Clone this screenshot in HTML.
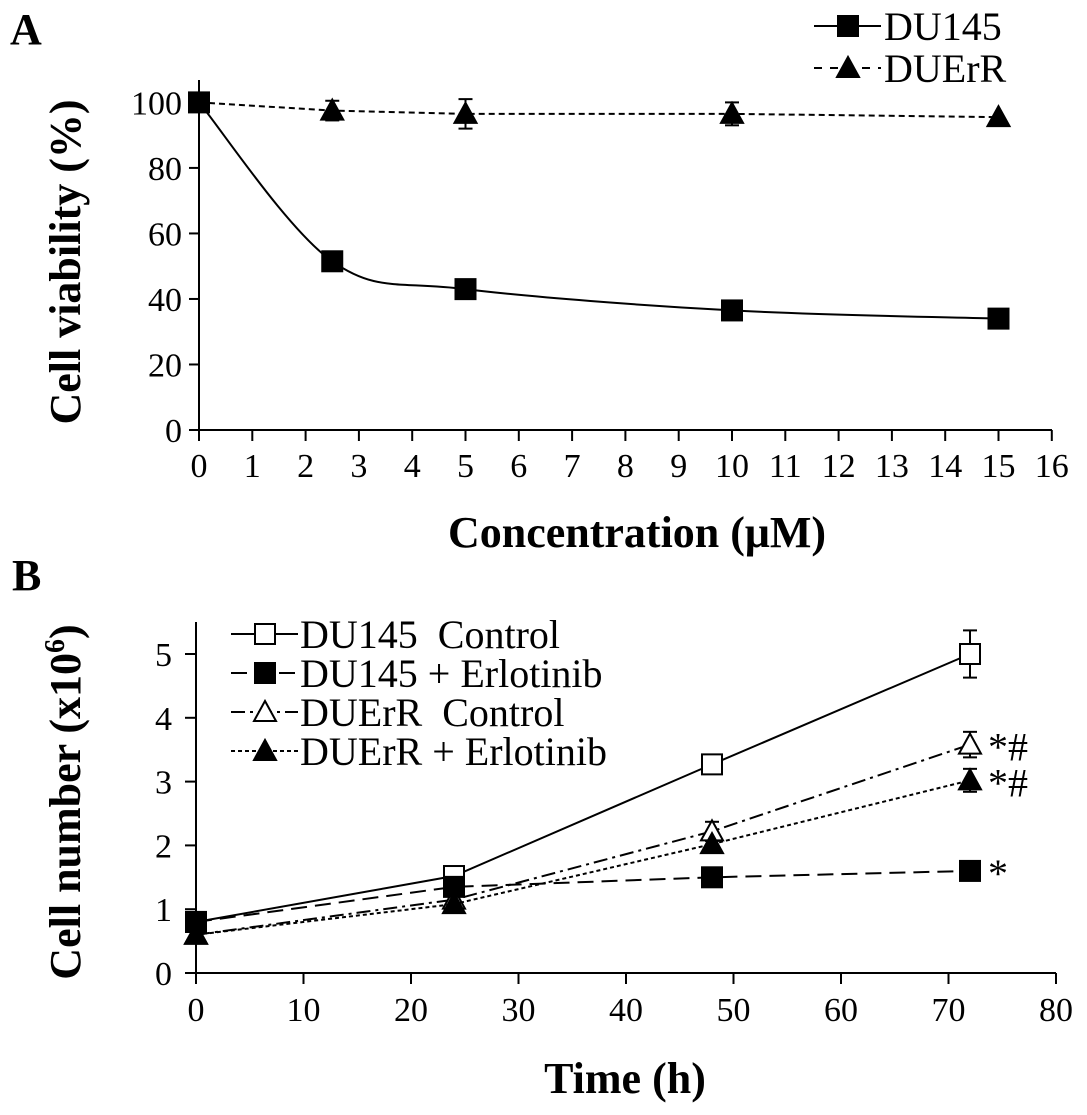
<!DOCTYPE html>
<html><head><meta charset="utf-8">
<style>
html,body{margin:0;padding:0;background:#fff;}
svg{display:block;font-family:"Liberation Serif",serif;}
.tk{font-size:34px;}
.tt{font-size:44px;font-weight:bold;}
.lg{font-size:40px;}
</style></head>
<body>
<svg id="chart" width="1087" height="1115" viewBox="0 0 1087 1115" xmlns="http://www.w3.org/2000/svg"></svg>
<script>
// Panel A data
const concA = [0, 2.5, 5, 10, 15];
const du145A = [100, 51.5, 43, 36.5, 34];
const duerrA = [100, 97.5, 96.5, 96.5, 95.5];
const duerrAErr = [0, 3, 4.5, 3.5, 0];
const xTicksA = [0,1,2,3,4,5,6,7,8,9,10,11,12,13,14,15,16];
const yTicksA = [0,20,40,60,80,100];
// Panel B data
const timeB = [0, 24, 48, 72];
const duCtrl = [0.8, 1.52, 3.27, 5.0];
const duCtrlErr = [0, 0, 0, 0.37];
const duErl = [0.8, 1.35, 1.5, 1.6];
const rCtrl = [0.6, 1.15, 2.22, 3.58];
const rCtrlErr = [0, 0, 0.15, 0.2];
const rErl = [0.6, 1.08, 2.02, 3.02];
const rErlErr = [0, 0, 0, 0.18];
const xTicksB = [0,10,20,30,40,50,60,70,80];
const yTicksB = [0,1,2,3,4,5];

const svg = document.getElementById('chart');
const NS = 'http://www.w3.org/2000/svg';
function mk(tag, attrs, parent, text){
  const e = document.createElementNS(NS, tag);
  for (const k in attrs) e.setAttribute(k, attrs[k]);
  if (text !== undefined) e.textContent = text;
  (parent||svg).appendChild(e);
  return e;
}
const xA = v => 199 + v*53.3;
const yA = v => 430 - v*3.276;
const xB = v => 196 + v*10.75;
const yB = v => 973 - v*63.8;

function square(g, x, y, fill){ return mk('rect',{x:x-10,y:y-10,width:20,height:20,fill:fill,stroke:'#000','stroke-width':2},g); }
function tri(g, x, y, fill){ return mk('polygon',{points:`${x},${y-11} ${x-11},${y+9} ${x+11},${y+9}`,fill:fill,stroke:'#000','stroke-width':2},g); }
function errbar(g, x, y1, y2){
  mk('line',{x1:x,y1:y1,x2:x,y2:y2,stroke:'#000','stroke-width':2},g);
  mk('line',{x1:x-7,y1:y1,x2:x+7,y2:y1,stroke:'#000','stroke-width':2},g);
  mk('line',{x1:x-7,y1:y2,x2:x+7,y2:y2,stroke:'#000','stroke-width':2},g);
}

// ===== Panel A =====
let t = mk('text',{x:10,y:44,class:'tt','font-size':44},svg,'A');


const axA = mk('g',{});


mk('line',{x1:199,y1:80,x2:199,y2:430,stroke:'#000','stroke-width':2},axA);
mk('line',{x1:189,y1:430,x2:1052,y2:430,stroke:'#000','stroke-width':2},axA);
yTicksA.forEach(v=>{
  mk('line',{x1:189,y1:yA(v),x2:199,y2:yA(v),stroke:'#000','stroke-width':2},axA);
  const l = mk('text',{x:182,y:yA(v)+12,'text-anchor':'end',class:'tk'},axA,String(v));
  
  
});
xTicksA.forEach(v=>{
  mk('line',{x1:xA(v),y1:430,x2:xA(v),y2:441,stroke:'#000','stroke-width':2},axA);
  const l = mk('text',{x:xA(v),y:477,'text-anchor':'middle',class:'tk'},axA,String(v));
  
  
});
t = mk('text',{x:637,y:547,'text-anchor':'middle',class:'tt'},svg,'Concentration (μM)');


t = mk('text',{x:0,y:0,'text-anchor':'middle',class:'tt',transform:'translate(80,262) rotate(-90)'},svg,'Cell viability (%)');



function smoothPath(xs, ys){
  const p = xs.map((x,i)=>[x,ys[i]]);
  let d = `M${p[0][0]},${p[0][1]}`;
  for(let i=0;i<p.length-1;i++){
    const p0=p[i-1]||p[i], p1=p[i], p2=p[i+1], p3=p[i+2]||p2;
    const c1=[p1[0]+(p2[0]-p0[0])/6, p1[1]+(p2[1]-p0[1])/6];
    const c2=[p2[0]-(p3[0]-p1[0])/6, p2[1]-(p3[1]-p1[1])/6];
    d+=` C${c1[0]},${c1[1]} ${c2[0]},${c2[1]} ${p2[0]},${p2[1]}`;
  }
  return d;
}
const sA2 = mk('g',{});


mk('polyline',{points:concA.map((c,i)=>`${xA(c)},${yA(duerrA[i])}`).join(' '),fill:'none',stroke:'#000','stroke-width':2,'stroke-dasharray':'6,4'},sA2);
concA.forEach((c,i)=>{
  if(i===0) return;
  if(duerrAErr[i]>0) errbar(sA2,xA(c),yA(duerrA[i]+duerrAErr[i]),yA(duerrA[i]-duerrAErr[i]));
  tri(sA2,xA(c),yA(duerrA[i]),'#000');
});
const sA1 = mk('g',{});


mk('path',{d:smoothPath(concA.map(xA), du145A.map(yA)),fill:'none',stroke:'#000','stroke-width':2},sA1);
concA.forEach((c,i)=>square(sA1,xA(c),yA(du145A[i]),'#000'));

const lgA = mk('g',{});


mk('line',{x1:814,y1:26,x2:881,y2:26,stroke:'#000','stroke-width':2},lgA);
square(lgA,848,26,'#000');
mk('text',{x:884,y:40,class:'lg'},lgA,'DU145');
mk('line',{x1:814,y1:68,x2:881,y2:68,stroke:'#000','stroke-width':2,'stroke-dasharray':'8,8'},lgA);
tri(lgA,848,68,'#000');
mk('text',{x:884,y:82,class:'lg'},lgA,'DUErR');

// ===== Panel B =====
t = mk('text',{x:12,y:590,class:'tt','font-size':44},svg,'B');


const axB = mk('g',{});


mk('line',{x1:196,y1:622,x2:196,y2:973,stroke:'#000','stroke-width':2},axB);
mk('line',{x1:185,y1:973,x2:1056,y2:973,stroke:'#000','stroke-width':2},axB);
yTicksB.forEach(v=>{
  mk('line',{x1:185,y1:yB(v),x2:196,y2:yB(v),stroke:'#000','stroke-width':2},axB);
  const l = mk('text',{x:172,y:yB(v)+12,'text-anchor':'end',class:'tk'},axB,String(v));
  
  
});
xTicksB.forEach(v=>{
  mk('line',{x1:xB(v),y1:973,x2:xB(v),y2:984,stroke:'#000','stroke-width':2},axB);
  const l = mk('text',{x:xB(v),y:1021,'text-anchor':'middle',class:'tk'},axB,String(v));
  
  
});
t = mk('text',{x:625,y:1093,'text-anchor':'middle',class:'tt'},svg,'Time (h)');


t = mk('text',{x:0,y:0,'text-anchor':'middle',class:'tt',transform:'translate(80,802) rotate(-90)'},svg);


t.innerHTML = 'Cell number (x10<tspan dy="-16" font-size="28">6</tspan><tspan dy="16">)</tspan>';

function series(name, ys, errs, dash, marker, fill){
  const g = mk('g',{});
  
  
  const a = {points:timeB.map((x,i)=>`${xB(x)},${yB(ys[i])}`).join(' '),fill:'none',stroke:'#000','stroke-width':2};
  if(dash) a['stroke-dasharray']=dash;
  mk('polyline',a,g);
  timeB.forEach((x,i)=>{
    if(errs && errs[i]>0) errbar(g,xB(x),yB(ys[i]+errs[i]),yB(ys[i]-errs[i]));
    marker(g,xB(x),yB(ys[i]),fill);
  });
  return g;
}
series('series-du145-control', duCtrl, duCtrlErr, null, square, '#fff');
series('series-duerr-control', rCtrl, rCtrlErr, '14,5,3,5', tri, '#fff');
series('series-du145-erlotinib', duErl, null, '16,8', square, '#000');
series('series-duerr-erlotinib', rErl, rErlErr, '4,3', tri, '#000');

const ann = mk('g',{});


mk('text',{x:988,y:yB(rCtrl[3])+16,class:'lg'},ann,'*#');
mk('text',{x:988,y:yB(rErl[3])+16,class:'lg'},ann,'*#');
mk('text',{x:988,y:yB(duErl[3])+16,class:'lg'},ann,'*');

const lgB = mk('g',{});


const rows = [
  ['DU145  Control', null, square, '#fff'],
  ['DU145 + Erlotinib', '16,8', square, '#000'],
  ['DUErR  Control', '14,5,3,5', tri, '#fff'],
  ['DUErR + Erlotinib', '4,3', tri, '#000']
];
rows.forEach((r,i)=>{
  const y = 634 + i*39;
  const a = {x1:231,y1:y,x2:298,y2:y,stroke:'#000','stroke-width':2};
  if(r[1]) a['stroke-dasharray']=r[1];
  mk('line',a,lgB);
  r[2](lgB,265,y,r[3]);
  const tx = mk('text',{x:300,y:y+14,class:'lg'},lgB,r[0]);
  tx.setAttribute('style','white-space:pre');
});
</script>
</body></html>
